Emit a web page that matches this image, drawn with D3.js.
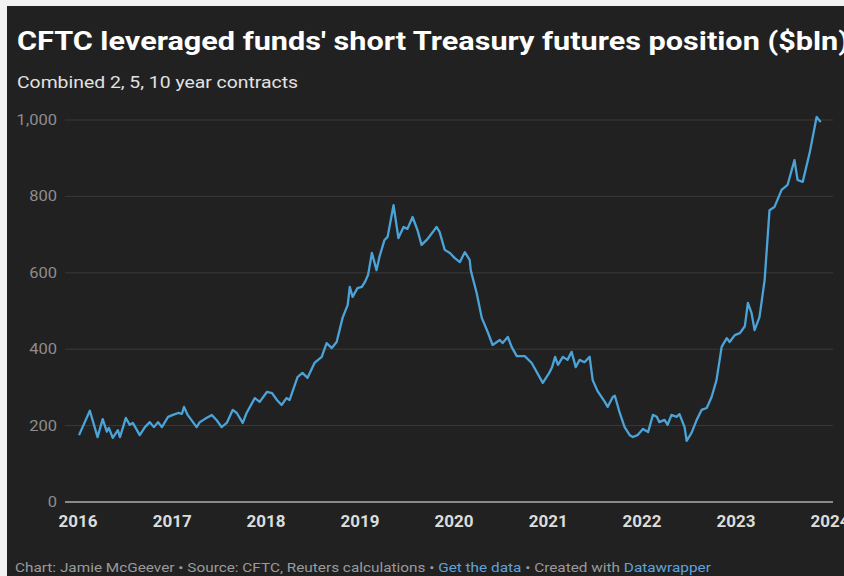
<!DOCTYPE html>
<html>
<head>
<meta charset="utf-8">
<script src="https://cdn.jsdelivr.net/npm/d3@7"></script>
<style>
  html, body { margin: 0; padding: 0; background: #f2f2f2; }
  svg { display: block; }
</style>
</head>
<body>
<svg id="chart" width="844" height="576"></svg>
<script>
// Weekly-ish readings of the combined 2/5/10-year leveraged-fund short position, $bln
const dates = [
  "2016-01-05","2016-02-16","2016-03-17","2016-04-06","2016-04-22","2016-04-30","2016-05-15","2016-06-04","2016-06-12",
  "2016-07-05","2016-07-20","2016-08-01","2016-08-28","2016-09-17","2016-10-06","2016-10-22","2016-11-07","2016-11-22","2016-12-16",
  "2017-01-04","2017-01-24","2017-02-08","2017-02-16","2017-03-02","2017-04-06","2017-04-18","2017-05-07","2017-06-04","2017-06-23",
  "2017-07-12","2017-08-01","2017-08-24","2017-09-09","2017-10-02","2017-10-17","2017-11-18","2017-12-07",
  "2018-01-04","2018-01-24","2018-02-12","2018-03-02","2018-03-21","2018-04-02","2018-05-03","2018-05-22","2018-06-11","2018-07-08",
  "2018-08-05","2018-08-24","2018-09-13","2018-10-02","2018-10-25","2018-11-14","2018-11-22","2018-12-03","2018-12-22",
  "2019-01-08","2019-01-20","2019-02-01","2019-02-16","2019-03-06","2019-03-17","2019-04-06","2019-04-18","2019-05-11","2019-05-30",
  "2019-06-19","2019-07-04","2019-07-24","2019-08-12","2019-08-28","2019-09-17","2019-10-10","2019-10-25","2019-11-06","2019-11-26","2019-12-16",
  "2020-01-03","2020-01-24","2020-02-12","2020-03-02","2020-03-06","2020-03-29","2020-04-18","2020-05-11","2020-05-30","2020-06-27",
  "2020-07-08","2020-07-28","2020-08-12","2020-09-01","2020-10-02","2020-10-29","2020-12-11",
  "2021-01-05","2021-01-16","2021-01-28","2021-02-08","2021-02-27","2021-03-17","2021-04-02","2021-04-18","2021-05-03","2021-05-22",
  "2021-06-11","2021-06-23","2021-07-12","2021-08-09","2021-08-20","2021-09-09","2021-09-17","2021-10-06","2021-10-25","2021-11-14",
  "2021-11-26","2021-12-14",
  "2022-01-04","2022-01-24","2022-02-12","2022-02-27","2022-03-09","2022-03-29","2022-04-10","2022-04-25","2022-05-15","2022-05-26",
  "2022-06-15","2022-06-23","2022-07-12","2022-08-01","2022-08-20","2022-09-09","2022-09-28","2022-10-17","2022-11-06","2022-11-26",
  "2022-12-07","2022-12-27",
  "2023-01-16","2023-02-04","2023-02-16","2023-03-02","2023-03-14","2023-04-02","2023-04-22","2023-05-11","2023-05-30","2023-06-27",
  "2023-07-20","2023-08-16","2023-08-28","2023-09-17","2023-10-14","2023-11-10","2023-11-26"
];
const shortPosition = [
  175, 239, 170, 217, 184, 194, 168, 188, 170,
  220, 202, 207, 175, 196, 209, 196, 209, 196, 223,
  228, 233, 231, 249, 228, 196, 209, 217, 228, 214,
  196, 207, 241, 233, 207, 233, 272, 262,
  288, 285, 267, 254, 272, 267, 327, 338, 325, 364,
  380, 416, 403, 419, 482, 516, 563, 537, 560,
  563, 576, 594, 652, 607, 641, 686, 694, 777, 691,
  720, 715, 746, 712, 673, 686, 706, 720, 707, 660, 652,
  639, 628, 654, 634, 607, 547, 482, 445, 411, 424,
  416, 432, 406, 382, 382, 364, 312,
  338, 353, 380, 359, 380, 372, 393, 353, 372, 366,
  380, 319, 290, 262, 249, 275, 278, 233, 196, 175,
  170, 175,
  191, 183, 228, 223, 209, 215, 202, 228, 223, 230,
  196, 160, 181, 215, 241, 246, 275, 319, 406, 429,
  419, 437,
  442, 460, 521, 495, 450, 484, 581, 764, 772, 817,
  830, 895, 843, 838, 914, 1008, 995
];
const yTicks = [0, 200, 400, 600, 800, 1000];
const xTickYears = [2016, 2017, 2018, 2019, 2020, 2021, 2022, 2023, 2024];

const titleText = "CFTC leveraged funds' short Treasury futures position ($bln)";
const subtitleText = "Combined 2, 5, 10 year contracts";

const svg = d3.select("#chart");
const W = 844, H = 576;

// Widen a text run horizontally by a factor, keeping its glyph height
function widen(sel, factor) {
  sel.each(function () {
    const n = this.getComputedTextLength();
    d3.select(this).attr("textLength", n * factor).attr("lengthAdjust", "spacingAndGlyphs");
  });
}

// dark card
svg.append("rect").attr("x", 7).attr("y", 6).attr("width", W - 7).attr("height", H - 6).attr("fill", "#212121");

const parse = d3.timeParse("%Y-%m-%d");
const series = dates.map((d, i) => ({ date: parse(d), value: shortPosition[i] }));

const x = d3.scaleTime()
  .domain([new Date(2016, 0, 1), new Date(2024, 0, 1)])
  .range([78, 830]);
const y = d3.scaleLinear().domain([0, 1000]).range([502, 120]);

const gridLeft = 65, gridRight = 833;

// horizontal gridlines + labels
const yAxis = svg.append("g").attr("class", "y-axis");
yAxis.selectAll("line").data(yTicks).join("line")
  .attr("x1", gridLeft).attr("x2", gridRight)
  .attr("y1", d => y(d)).attr("y2", d => y(d))
  .attr("stroke", d => d === 0 ? "#8a8a8a" : "#3c3a37")
  .attr("stroke-width", d => d === 0 ? 2 : 1);
const yLabels = yAxis.selectAll("text").data(yTicks).join("text")
  .attr("x", 57).attr("y", d => y(d)).attr("dy", "0.35em")
  .attr("text-anchor", "end")
  .attr("font-family", "Roboto, sans-serif").attr("font-size", 14)
  .attr("fill", "#8d8d8d")
  .text(d => d3.format(",")(d));
widen(yLabels, 1.18);

// year labels
const xAxis = svg.append("g").attr("class", "x-axis");
xAxis.selectAll("text").data(xTickYears).join("text")
  .attr("x", d => x(new Date(d, 0, 1))).attr("y", 527)
  .attr("text-anchor", "middle")
  .attr("font-family", "Roboto, sans-serif").attr("font-size", 17).attr("font-weight", 700)
  .attr("fill", "#dcdcdc")
  .text(d => d);

// the series
const line = d3.line().x(d => x(d.date)).y(d => y(d.value)).curve(d3.curveLinear);
svg.append("path").datum(series)
  .attr("d", line)
  .attr("fill", "none")
  .attr("stroke", "#4ba3d8")
  .attr("stroke-width", 2.3)
  .attr("stroke-linejoin", "round");

// heading
const title = svg.append("text")
  .attr("x", 17).attr("y", 50)
  .attr("font-family", "Roboto, sans-serif").attr("font-size", 26).attr("font-weight", 700)
  .attr("fill", "#ffffff")
  .text(titleText);
title.attr("textLength", 832).attr("lengthAdjust", "spacingAndGlyphs");

const subtitle = svg.append("text")
  .attr("x", 17).attr("y", 88)
  .attr("font-family", "Roboto, sans-serif").attr("font-size", 17)
  .attr("fill", "#e2e2e2")
  .text(subtitleText);
subtitle.attr("textLength", 281).attr("lengthAdjust", "spacingAndGlyphs");

// footer
const foot = svg.append("text")
  .attr("x", 15).attr("y", 572)
  .attr("font-family", "Roboto, sans-serif").attr("font-size", 13)
  .attr("fill", "#9a9a9a");
foot.append("tspan").text("Chart: Jamie McGeever \u2022 Source: CFTC, Reuters calculations \u2022 ");
foot.append("tspan").attr("fill", "#5fa3dc").text("Get the data");
foot.append("tspan").text(" \u2022 Created with ");
foot.append("tspan").attr("fill", "#5fa3dc").text("Datawrapper");
foot.selectAll("tspan").call(widen, 1.18);
</script>
</body>
</html>
